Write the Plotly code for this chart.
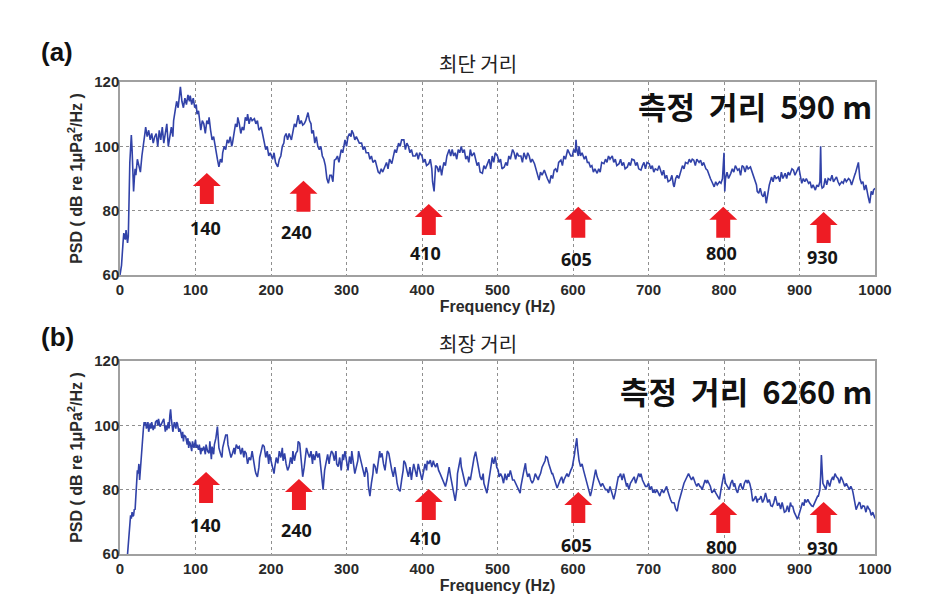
import plotly.graph_objects as go

# ---------------- data ----------------
freq_a = [0, 2, 4, 5, 7, 8, 10, 11, 13, 14, 15, 16, 17, 18, 19, 20, 21, 23, 25, 27, 29, 31, 33, 34, 36, 38, 40, 42, 44, 46, 48, 50, 52, 54, 56, 58, 60, 62, 64, 66, 68, 70, 71, 73, 75, 77, 79, 80, 82, 84, 86, 88, 90, 92, 93, 95, 97, 99, 101, 102, 104, 106, 107, 109, 111, 113, 115, 117, 118, 120, 122, 124, 126, 127, 129, 131, 133, 135, 136, 138, 140, 142, 144, 146, 148, 149, 151, 153, 155, 156, 158, 160, 162, 164, 166, 168, 169, 171, 173, 175, 178, 180, 182, 184, 187, 189, 191, 193, 195, 197, 199, 200, 202, 204, 206, 208, 209, 211, 213, 215, 217, 218, 220, 222, 224, 227, 229, 231, 233, 236, 238, 240, 242, 244, 246, 248, 249, 251, 253, 254, 256, 258, 260, 262, 264, 266, 268, 270, 272, 274, 276, 278, 280, 282, 284, 286, 288, 290, 291, 293, 295, 297, 298, 300, 302, 304, 306, 307, 309, 311, 313, 315, 317, 320, 322, 324, 326, 329, 331, 333, 335, 338, 340, 342, 344, 346, 348, 351, 353, 355, 357, 360, 362, 364, 366, 369, 371, 373, 376, 378, 380, 382, 384, 386, 388, 391, 393, 395, 397, 400, 402, 404, 406, 409, 411, 413, 414, 416, 417, 418, 420, 422, 424, 426, 427, 429, 431, 433, 436, 438, 440, 442, 444, 446, 448, 450, 452, 454, 456, 458, 460, 462, 464, 466, 469, 471, 473, 475, 477, 480, 482, 484, 487, 489, 491, 493, 495, 497, 500, 502, 504, 506, 509, 511, 513, 515, 517, 520, 522, 524, 526, 528, 531, 533, 535, 538, 540, 542, 544, 546, 549, 551, 553, 555, 557, 559, 562, 564, 566, 568, 569, 571, 573, 575, 577, 579, 581, 584, 586, 588, 590, 593, 595, 597, 599, 601, 603, 604, 605, 607, 608, 610, 612, 615, 617, 619, 621, 623, 625, 627, 629, 632, 634, 636, 638, 641, 643, 645, 647, 649, 652, 654, 656, 658, 661, 663, 665, 667, 669, 672, 674, 676, 678, 681, 683, 685, 687, 690, 692, 694, 696, 698, 701, 703, 705, 707, 709, 712, 714, 716, 718, 720, 722, 724, 726, 729, 731, 733, 734, 736, 738, 740, 743, 745, 747, 749, 752, 754, 756, 758, 760, 762, 764, 767, 769, 771, 773, 776, 778, 780, 782, 784, 787, 789, 791, 794, 796, 798, 799, 800, 801, 802, 804, 806, 809, 811, 813, 815, 818, 820, 822, 824, 826, 828, 830, 832, 835, 837, 839, 841, 843, 844, 846, 848, 850, 852, 854, 856, 858, 860, 863, 865, 867, 869, 872, 874, 876, 878, 881, 883, 885, 887, 890, 892, 894, 896, 899, 901, 903, 905, 907, 909, 912, 914, 916, 918, 921, 923, 925, 927, 928, 929, 930, 932, 934, 936, 938, 941, 943, 945, 947, 949, 951, 953, 956, 958, 960, 962, 965, 967, 969, 971, 973, 974, 976, 978, 980, 982, 984, 986, 988, 990, 991, 993, 995, 997, 998, 1000]
psd_a = [60, 63, 70, 73, 71, 74, 70, 72, 95, 101, 103.5, 99, 92, 86, 90, 93, 91, 96, 94, 92, 97, 100, 104, 106, 103, 105, 102, 104, 101, 103, 104, 100, 105, 102, 106, 101, 104, 107, 100, 104, 106, 103, 108, 111, 114, 112, 116, 118.5, 114, 112, 115, 113, 116, 114, 115.8, 113, 115, 112, 113, 110, 111, 107, 105, 108, 107, 104, 108, 107, 109, 105, 102, 103, 100, 98, 96, 93.6, 96, 95, 98, 100, 99, 102, 101, 103, 100, 101, 104, 107, 106, 109, 107, 104, 106, 105, 109, 108, 110, 107, 109, 108, 108.6, 107, 108, 105, 106, 104, 101, 99, 100, 97, 98, 97, 96, 98, 95, 94, 93.6, 96, 97, 100, 101, 103, 104, 102, 104, 102, 105, 107, 106, 109.7, 107, 108, 106.6, 107, 108, 110, 110.5, 108, 107, 104, 105, 101, 103, 100, 99, 100, 97, 96, 94, 90, 88.5, 91, 91, 89, 95.7, 96, 97, 95, 97, 99, 98, 101, 102, 100, 103, 104, 103, 105, 104, 102, 103, 102, 101, 101, 99, 100, 98, 98, 96, 97, 95, 95.7, 94, 92, 91.6, 93, 92, 94, 95, 93, 96, 94.6, 97, 99, 98, 101, 100, 102, 102, 99, 101, 100, 98, 99, 97, 97, 98, 96, 98, 97, 95, 96, 94, 94.6, 96, 93, 89, 86, 90, 94, 93.6, 92, 94, 91, 92.6, 95, 94, 97, 99, 97, 99, 97, 98, 96, 99, 98, 100, 98, 99, 96, 97, 95, 99, 97, 98, 96, 94, 95, 92, 91.6, 94, 93, 94.6, 96, 93, 97, 95, 98, 97, 95, 96, 93, 93.6, 95, 94, 97, 96, 99, 98, 96, 98, 97, 97, 95, 98, 96, 98, 97, 95, 96, 94.6, 93, 91, 89.5, 92, 91, 92.6, 91, 90, 89, 88.5, 91, 90, 92.6, 93, 92, 95, 95.7, 94, 97, 96, 99, 98, 97, 97, 99, 98, 102, 99, 97, 100, 97, 98, 96, 97, 95, 95, 93.6, 94, 92, 93, 91.6, 93, 92, 95, 94.6, 96, 95, 97, 96, 97, 95, 96, 94, 94.6, 96, 94, 95, 93, 93.6, 95, 94, 96, 95.7, 94, 95, 93, 92.6, 94, 95, 93, 95, 94.6, 93, 94, 92, 93, 92.6, 94, 92, 91, 92.6, 90, 91, 89, 89.5, 91, 88, 87.4, 90, 91, 90, 92.6, 94, 93, 95, 94.6, 96, 95, 96, 95.7, 94, 96, 95, 95.7, 94, 95, 93, 92.6, 91, 90, 89, 87.4, 89, 88, 89, 88.5, 90, 95, 98, 86, 90, 92, 90, 91.6, 93, 92, 94, 92.6, 93, 91, 94, 93.6, 92, 94, 93, 93.6, 92, 91, 89.5, 88, 86, 85.4, 87, 85, 84.3, 86, 82.3, 85, 88, 90.5, 89, 91, 90, 90.5, 89, 92, 90, 91.6, 90, 92, 91, 93, 92.6, 91, 92, 93.6, 91, 88.5, 90, 89, 90, 88.5, 89, 87, 88, 86.4, 88, 87.4, 89, 100, 88, 87, 87.4, 90, 88, 90, 89.5, 91, 89, 90, 90.5, 89, 88, 89, 88.5, 90, 89, 90, 89.5, 88, 90, 91, 91.6, 93, 95, 90, 88.5, 89, 86.4, 88, 85, 84.3, 82.3, 86, 85, 86.4, 87]

freq_b = [10, 11, 12, 13, 14, 15, 16, 17, 18, 19, 20, 21, 22, 23, 24, 25, 26, 27, 28, 29, 30, 31, 32, 33, 34, 35, 36, 37, 38, 40, 41, 42, 44, 45, 46, 47, 49, 50, 51, 53, 54, 56, 58, 59, 60, 61, 62, 64, 65, 66, 67, 68, 69, 70, 71, 72, 74, 75, 76, 78, 79, 80, 82, 83, 84, 85, 87, 89, 90, 91, 92, 93, 95, 96, 98, 100, 101, 102, 104, 105, 107, 108, 109, 111, 113, 114, 116, 118, 119, 120, 121, 122, 124, 125, 127, 129, 130, 131, 133, 135, 136, 138, 140, 142, 143, 145, 147, 149, 151, 152, 154, 156, 158, 160, 162, 164, 165, 167, 169, 171, 173, 175, 177, 179, 180, 182, 184, 185, 187, 189, 191, 193, 195, 197, 198, 200, 202, 204, 205, 207, 209, 211, 213, 215, 216, 218, 220, 222, 224, 226, 228, 229, 231, 233, 235, 236, 238, 240, 242, 244, 246, 247, 249, 251, 253, 255, 256, 258, 260, 262, 264, 266, 268, 269, 271, 273, 275, 277, 278, 280, 282, 284, 286, 287, 289, 291, 293, 295, 296, 298, 300, 302, 304, 306, 307, 309, 311, 313, 315, 316, 318, 320, 322, 324, 326, 328, 329, 331, 333, 335, 336, 338, 340, 342, 344, 345, 347, 349, 351, 353, 354, 356, 358, 360, 362, 364, 366, 367, 369, 371, 373, 375, 376, 378, 380, 382, 384, 386, 387, 389, 391, 393, 395, 396, 398, 400, 402, 404, 406, 407, 409, 411, 413, 415, 416, 418, 420, 422, 424, 426, 427, 429, 431, 433, 435, 436, 438, 440, 442, 444, 446, 447, 449, 451, 452, 454, 456, 458, 460, 462, 464, 466, 468, 469, 471, 473, 475, 477, 479, 481, 482, 484, 486, 488, 490, 492, 493, 495, 497, 499, 501, 502, 504, 506, 508, 510, 512, 514, 515, 517, 519, 520, 522, 524, 526, 528, 530, 531, 533, 535, 537, 538, 540, 542, 544, 546, 548, 550, 552, 554, 555, 557, 559, 561, 563, 564, 566, 568, 570, 572, 573, 575, 577, 579, 581, 583, 585, 587, 588, 590, 592, 594, 595, 597, 599, 600, 601, 602, 603, 604, 605, 606, 607, 608, 610, 612, 614, 616, 617, 619, 621, 623, 625, 627, 629, 630, 632, 634, 635, 637, 639, 641, 643, 645, 647, 649, 651, 652, 654, 656, 658, 660, 661, 663, 665, 667, 669, 671, 672, 674, 676, 678, 680, 681, 683, 685, 687, 689, 690, 692, 694, 696, 698, 700, 702, 704, 706, 707, 709, 711, 713, 715, 716, 718, 720, 722, 724, 725, 727, 729, 731, 733, 734, 736, 738, 740, 742, 744, 745, 747, 749, 751, 753, 755, 757, 759, 760, 762, 764, 766, 768, 769, 771, 773, 775, 777, 778, 780, 782, 784, 786, 787, 789, 791, 793, 794, 796, 798, 799, 800, 802, 804, 805, 807, 809, 811, 813, 814, 816, 818, 820, 822, 823, 825, 827, 829, 831, 832, 834, 836, 838, 840, 842, 844, 845, 847, 849, 851, 853, 855, 856, 858, 860, 862, 864, 866, 868, 870, 871, 873, 875, 877, 879, 880, 882, 884, 886, 888, 889, 891, 893, 895, 897, 898, 900, 902, 904, 906, 907, 909, 911, 913, 915, 916, 918, 920, 922, 924, 925, 927, 928, 929, 930, 931, 933, 935, 937, 938, 940, 942, 944, 945, 947, 949, 951, 953, 955, 957, 958, 960, 962, 964, 966, 968, 970, 971, 973, 975, 977, 979, 980, 982, 984, 986, 988, 990, 992, 993, 995, 997, 999, 1000]
psd_b = [60, 64, 68, 70.6, 72, 71, 73, 71.7, 72, 74, 73.8, 78, 82, 86, 85, 88, 83, 87, 90, 93.4, 96, 99, 101, 100, 101, 99, 99.6, 101, 98, 100.6, 99, 101, 98.5, 100, 99, 101, 101.6, 100, 102, 99.6, 100, 101, 102, 100, 98, 100, 98.5, 101, 99, 103, 105, 102, 100, 98, 99.6, 101, 99, 101, 100.6, 98, 99, 98.5, 96, 98, 95, 97, 96.5, 94, 96, 93, 95, 94.4, 92, 95, 93, 95.5, 93, 94, 92.4, 94, 91, 93, 92, 93.4, 91, 94, 92, 91.3, 95, 92, 89.5, 93.4, 91, 94, 96, 99.6, 97, 93, 91.3, 90, 93, 95, 97, 97, 94, 92, 90, 91.3, 93, 91, 94, 93, 93.4, 91, 93, 90, 92, 91.3, 88, 90, 89.2, 92, 88, 86, 85, 84, 87, 90, 92, 94, 93.4, 90, 92, 88, 91, 89.2, 87, 85, 87, 90, 88.2, 92, 90, 93, 89, 91.3, 88, 86, 87.2, 90, 88, 92, 89, 91.3, 92, 95, 94.4, 88, 84, 87, 90, 93, 91.3, 90, 92, 88, 91, 89.2, 92, 90, 91.3, 86, 82, 80, 86, 89.2, 91, 88, 90, 92, 91.3, 89, 92, 88, 87.2, 90, 86, 91, 89.2, 92, 88, 86, 90.3, 88, 92, 89, 85, 87, 89, 92, 90.3, 88, 86, 84, 87, 85, 81, 78, 82, 85, 88, 87.2, 85, 89, 92, 90, 91.3, 88, 86, 90, 92, 91.3, 88, 86, 84, 87, 84, 82, 80, 79.5, 83, 86, 89, 88.2, 86, 84, 87, 83, 85, 88, 86, 84, 88, 87.2, 85, 83, 85, 88, 86, 89, 88, 89.2, 87, 89, 88, 87, 88.2, 86, 85, 84, 83, 82, 81, 83, 85, 87, 84, 82, 79, 76.5, 80, 85, 88.2, 90, 87.2, 85, 83, 81, 82, 84, 83, 86, 88, 90, 91.8, 89, 86, 84, 83, 85, 82, 80, 78.9, 82, 86, 88.2, 90, 88, 90.3, 87, 86, 84, 85, 84, 82, 85, 83, 85, 84, 86, 84, 83, 83, 82, 81, 80, 78.9, 81, 84, 86, 88.2, 86, 84, 85, 83, 82, 83, 85, 84, 83, 84, 85, 87, 88, 89, 90.3, 90, 88, 86, 85, 85, 83, 82, 80.5, 82, 83, 84, 82, 83, 84, 85, 84, 85, 86, 87, 88, 89.2, 91, 93, 94, 96, 93, 91, 89, 87.2, 88, 86, 84, 83, 82, 80, 78, 80, 83, 85, 86.2, 84, 83, 82, 81, 82, 81, 80, 80, 79, 81, 79, 78, 77, 79, 82, 84, 84, 85, 83, 85, 83, 81, 82, 80, 82, 83, 84, 84, 82, 84, 85, 84, 85, 83, 82, 81, 81, 82, 80, 81, 79, 80, 79, 80, 79, 78, 78.9, 80, 79, 80, 81, 80, 78, 77, 76, 76, 75.9, 74, 73.3, 76, 78, 80, 80, 82, 83, 84, 85, 84, 83, 84, 83, 82, 81, 82, 81, 81, 80, 82, 83, 82, 83, 82, 81, 79, 80, 80, 79, 78, 77, 77, 80, 82, 84, 85, 82, 81, 81, 80, 82, 83, 81, 82, 80, 79, 81, 82, 81, 80, 82, 83, 82, 83, 82, 80, 76.4, 77, 78, 76, 77, 77, 78, 76, 77, 79, 78, 76, 77, 75, 74.8, 76, 78, 76, 75, 75.9, 74, 76, 74, 73, 73.3, 75, 73, 76, 75, 74.8, 73, 72, 71, 71.2, 73, 74.8, 76, 75, 77, 76, 77, 76, 75, 75, 74.8, 76, 77, 78, 78, 80, 84, 90.8, 86, 82, 81, 80, 83, 82, 81, 83, 84, 83, 85, 84, 83.5, 82, 84, 83, 82, 81, 82, 81, 80, 81, 80, 78.9, 76, 73.8, 75, 76, 75.9, 74, 75, 74.8, 73, 75, 74, 73.8, 72, 73, 71.7, 71]

x_ticks = [0, 100, 200, 300, 400, 500, 600, 700, 800, 900, 1000]
y_ticks = [60, 80, 100, 120]

arrow_labels = ["140", "240", "410", "605", "800", "930"]
# arrow tip positions (Hz, dB) and label positions for panel (a)
arrow_x_a = [115, 243, 409, 607, 799, 932]
arrow_tip_a = [91.7, 89.3, 82.1, 81.2, 81.2, 79.6]
label_x_a = [113, 234, 405, 605, 797, 931]
label_y_a = [74.7, 73.4, 66.9, 65.0, 66.9, 65.7]
# panel (b)
arrow_x_b = [114, 237, 409, 607, 799, 932]
arrow_tip_b = [85.5, 83.3, 80.2, 79.3, 76.2, 76.2]
label_x_b = [113, 234, 405, 605, 797, 930]
label_y_b = [69.0, 67.5, 65.0, 62.8, 62.2, 61.9]

panel_titles = ["최단 거리", "최장 거리"]
panel_tags = ["(a)", "(b)"]
distance_texts = ["측정\u00a0 거리\u00a0 590 m", "측정\u00a0 거리\u00a0 6260 m"]

# ---------------- figure ----------------
# the page body adds an 8 px margin, so the figure is drawn 8 px smaller and offset
OFF = 8
W, H = 927 - OFF, 601 - OFF
LINE = "#3142a8"
RED = "#ee1c24"
GRID = "#8f8f8f"
FRAME = "#a0a0a0"
BOLD_FAMILY = "Liberation Sans, Arial"
TICKFONT = dict(family=BOLD_FAMILY, size=15, color="#2a2a2a", weight="bold")
TITLEFONT = dict(family=BOLD_FAMILY, size=16, color="#2a2a2a", weight="bold")
KFONT = "Noto Sans CJK KR"

def px_x(p):
    return (p - OFF) / W

def px_y(p):
    return 1 - (p - OFF) / H

x_dom = [px_x(120), px_x(875)]
top_dom = [px_y(275), px_y(82)]
bot_dom = [px_y(554), px_y(361)]

fig = go.Figure()
fig.add_trace(go.Scatter(x=freq_a, y=psd_a, mode="lines", line=dict(color=LINE, width=1.6),
                         xaxis="x", yaxis="y", showlegend=False, hoverinfo="skip"))
fig.add_trace(go.Scatter(x=freq_b, y=psd_b, mode="lines", line=dict(color=LINE, width=1.6),
                         xaxis="x2", yaxis="y2", showlegend=False, hoverinfo="skip"))

def xaxis_cfg(anchor):
    return dict(domain=x_dom, range=[0, 1000], tickvals=x_ticks, ticks="", anchor=anchor,
                automargin=False,
                showgrid=True, gridcolor=GRID, griddash="dot", gridwidth=1,
                showline=True, linecolor=FRAME, linewidth=1.5, mirror=True, zeroline=False,
                tickfont=TICKFONT,
                title=dict(text="Frequency (Hz)", font=TITLEFONT, standoff=0))

def yaxis_cfg(anchor, dom):
    return dict(domain=dom, range=[60, 120], tickvals=y_ticks, ticks="", anchor=anchor,
                automargin=False, ticklabelstandoff=-4,
                showgrid=True, gridcolor=GRID, griddash="dot", gridwidth=1,
                showline=True, linecolor=FRAME, linewidth=1.5, mirror=True, zeroline=False,
                tickfont=TICKFONT,
                title=dict(text="PSD ( dB re 1μPa<sup>2</sup>/Hz )", font=TITLEFONT, standoff=8))

annotations = []
shapes = []
arrow_path = "M 0 0 L 14 -13 L 7 -13 L 7 -31 L -7 -31 L -7 -13 L -14 -13 Z"

panels = [
    ("x", "y", arrow_x_a, arrow_tip_a, label_x_a, label_y_a, 63, 52, 106),
    ("x2", "y2", arrow_x_b, arrow_tip_b, label_x_b, label_y_b, 343, 337, 390),
]
for i, (xr, yr, ax_, at_, lx_, ly_, title_y, tag_y, dist_y) in enumerate(panels):
    for fx, fy in zip(ax_, at_):
        shapes.append(dict(type="path", xref=xr, yref=yr, xsizemode="pixel", ysizemode="pixel",
                           xanchor=fx, yanchor=fy, path=arrow_path,
                           fillcolor=RED, line=dict(width=0)))
    for lab, fx, fy in zip(arrow_labels, lx_, ly_):
        annotations.append(dict(x=fx, y=fy, xref=xr, yref=yr, text=lab, showarrow=False,
                                xanchor="center", yanchor="middle",
                                font=dict(family="Noto Sans", size=18, color="#151515", weight="bold")))
    annotations.append(dict(x=px_x(478), y=px_y(title_y), xref="paper", yref="paper",
                            xanchor="center", yanchor="middle",
                            text=panel_titles[i], showarrow=False,
                            font=dict(family=KFONT, size=20, color="#222")))
    annotations.append(dict(x=px_x(57), y=px_y(tag_y), xref="paper", yref="paper",
                            xanchor="center", yanchor="middle",
                            text=panel_tags[i], showarrow=False,
                            font=dict(family=BOLD_FAMILY, size=26, color="#111", weight="bold")))
    annotations.append(dict(x=px_x(874), y=px_y(dist_y), xref="paper", yref="paper",
                            xanchor="right", yanchor="middle", text=distance_texts[i], showarrow=False,
                            font=dict(family=KFONT, size=31, color="#111", weight="bold")))

fig.update_layout(
    width=W, height=H,
    margin=dict(l=0, r=0, t=0, b=0),
    paper_bgcolor="white", plot_bgcolor="white",
    xaxis=xaxis_cfg("y"), yaxis=yaxis_cfg("x", top_dom),
    xaxis2=xaxis_cfg("y2"), yaxis2=yaxis_cfg("x2", bot_dom),
    annotations=annotations, shapes=shapes,
    showlegend=False,
)

fig.write_html("out.html")
